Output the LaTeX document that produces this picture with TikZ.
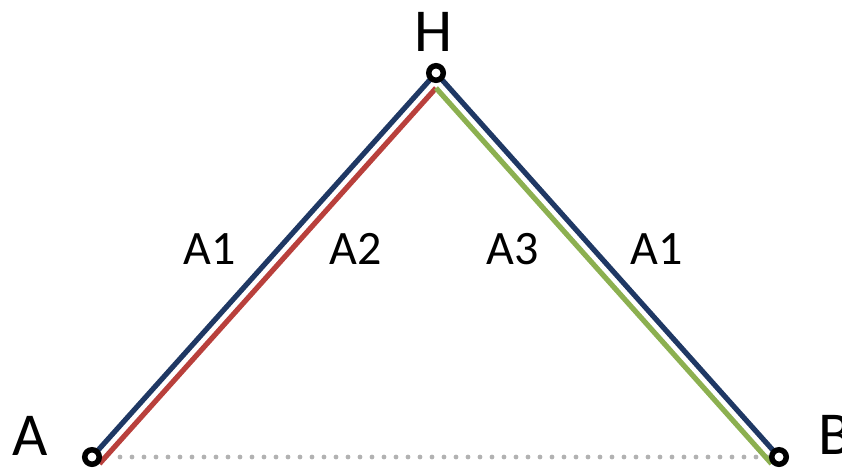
\documentclass[tikz,border=0pt]{standalone}
\usepackage{fontspec}
\setmainfont{Carlito}
\definecolor{navy}{RGB}{31,56,100}
\definecolor{brick}{RGB}{185,64,60}
\definecolor{olive}{RGB}{140,176,80}
\definecolor{dotgrey}{RGB}{178,178,178}
\begin{document}
\begin{tikzpicture}[x=1pt,y=-1pt,
  pin/.style={circle,draw=black,fill=white,line width=5.5pt,minimum size=14.5pt,inner sep=0pt},
  legline/.style={line width=5.2pt,line cap=butt},
  dotline/.style={dotgrey,line width=4.8pt,line cap=round,dash pattern=on 0pt off 12pt},
  bigtxt/.style={font=\fontsize{61}{61}\selectfont,inner sep=0pt,anchor=base},
  labtxt/.style={font=\fontsize{48}{48}\selectfont,inner sep=0pt,anchor=base}]
\useasboundingbox (0,0) rectangle (842,468);
% offset points of inner lines
\coordinate (Ar) at (99.5,463.7);
\coordinate (Hi) at (436,88);
\coordinate (Bg) at (771.5,463.7);
\coordinate (D1) at (120,457);
\coordinate (D2) at (768,457);
% dotted base
\draw[dotline] (D1) -- (D2);
% inner lines
\draw[legline,brick] (Ar) -- (Hi);
\draw[legline,olive] (Hi) -- (Bg);
% outer blue line
\coordinate (Ac) at (92,457);
\coordinate (Hc) at (436,73);
\coordinate (Bc) at (779,457);
\draw[legline,navy,line join=miter] (Ac) -- (Hc) -- (Bc);
% pins
\node[pin] (A) at (Ac) {};
\node[pin] (H) at (Hc) {};
\node[pin] (B) at (Bc) {};
% texts
\node[bigtxt] (tH) at (433,52) {H};
\node[bigtxt] (tA) at (30,455) {A};
\node[bigtxt] (tB) at (835,454) {B};
\node[labtxt] (l1) at (210,264) {A1};
\node[labtxt] (l2) at (356,264) {A2};
\node[labtxt] (l3) at (513,264) {A3};
\node[labtxt] (l4) at (657,264) {A1};
\end{tikzpicture}
\end{document}
